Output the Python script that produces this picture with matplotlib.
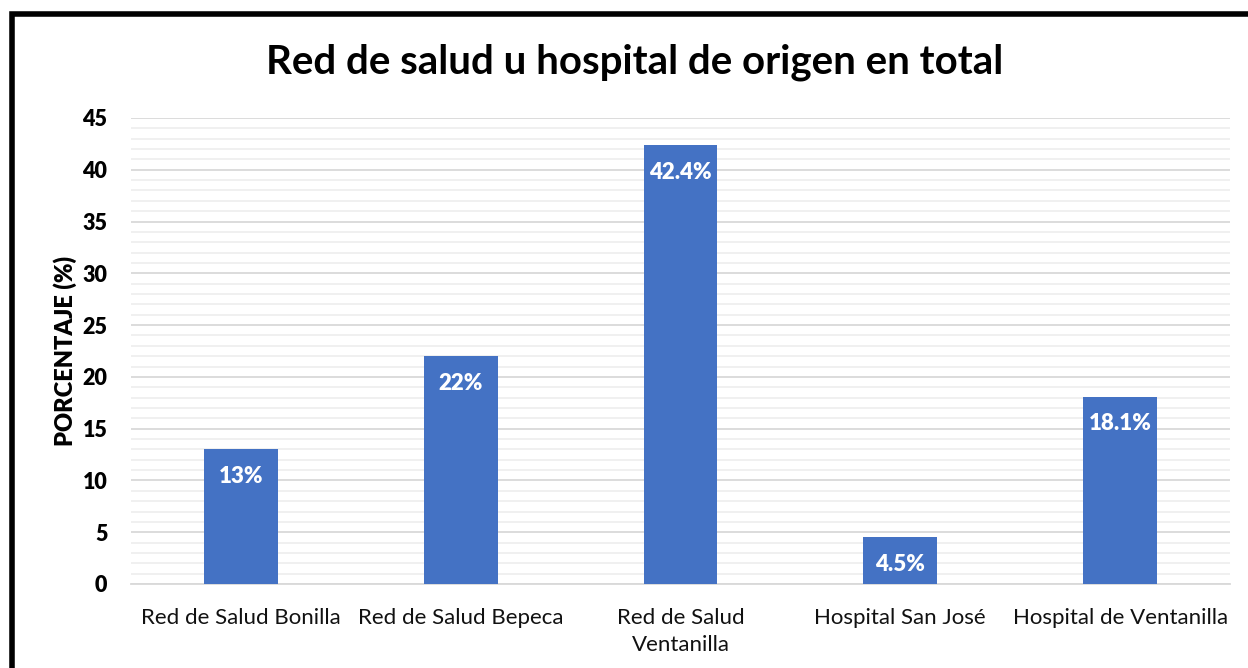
import matplotlib
matplotlib.use("Agg")
from matplotlib import pyplot as plt
from matplotlib.patches import Rectangle
import numpy as np

# chart data
categories = ["Red de Salud Bonilla", "Red de Salud Bepeca", "Red de Salud\nVentanilla",
              "Hospital San José", "Hospital de Ventanilla"]
values = [13, 22, 42.4, 4.5, 18.1]
labels = ["13%", "22%", "42.4%", "4.5%", "18.1%"]

plt.rcParams["font.family"] = ["Lato", "DejaVu Sans"]

fig = plt.figure(figsize=(12.48, 6.68), dpi=100)
ax = fig.add_axes([131 / 1248, 1 - 584 / 668, 1099 / 1248, 466 / 668])

x = np.arange(len(categories))
bars = ax.bar(x, values, width=0.335, color="#4472C4", zorder=3)

# value labels inside the top of each bar
for b, lab in zip(bars, labels):
    ax.annotate(lab, (b.get_x() + b.get_width() / 2, b.get_height()),
                xytext=(0, -19.5), textcoords="offset points",
                ha="center", va="center", color="white",
                fontsize=16, fontweight="heavy", zorder=4)

ax.set_xlim(-0.5, len(categories) - 0.5)
ax.set_ylim(0, 45)
ax.set_yticks(np.arange(0, 46, 5))
ax.set_yticks(np.arange(0, 46, 1), minor=True)
ax.grid(axis="y", which="major", color="#d9d9d9", linewidth=1.3, zorder=0)
ax.grid(axis="y", which="minor", color="#efefef", linewidth=1.3, zorder=0)
ax.set_xticks(x)
ax.set_xticklabels(categories, fontsize=16, color="#111111", linespacing=1.45)
ax.tick_params(axis="both", which="both", length=0)
ax.tick_params(axis="x", pad=17)
ax.tick_params(axis="y", pad=17)
for t in ax.get_yticklabels():
    t.set_fontweight("heavy")
    t.set_fontsize(15.5)

for s in ["top", "right", "left"]:
    ax.spines[s].set_visible(False)
ax.spines["bottom"].set_color("#d9d9d9")
ax.spines["bottom"].set_linewidth(1.3)

ax.set_ylabel("PORCENTAJE (%)", fontsize=17, fontweight="heavy", labelpad=4)

fig.text(635 / 1248, 1 - 62 / 668, "Red de salud u hospital de origen en total",
         ha="center", va="center", fontsize=29, fontweight="bold")

# black frame around the chart, running off the right and bottom edges
frame = Rectangle((11.5 / 1248, -0.05), 1.2, 1 - 14 / 668 + 0.05,
                  transform=fig.transFigure, fill=False,
                  edgecolor="black", linewidth=4, clip_on=False)
fig.patches.append(frame)

fig.savefig("out.png", dpi=100)
